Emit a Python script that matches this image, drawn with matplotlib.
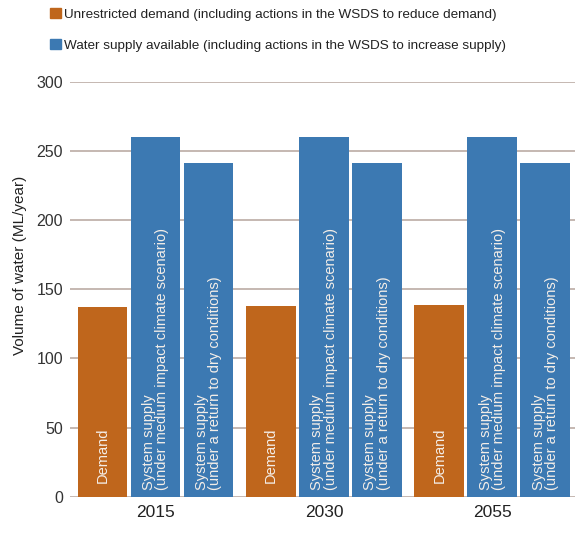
import numpy as np
import matplotlib.pyplot as plt
from matplotlib.patches import Patch

plt.rcParams['font.family'] = ['Liberation Sans Narrow', 'Liberation Sans', 'DejaVu Sans']

# values (ML/year)
years = ['2015', '2030', '2055']
demand = [137, 137.5, 138.5]
supply_medium = [260, 260, 260]
supply_dry = [241, 241, 241]

bar_labels = ['Demand',
              'System supply\n(under medium impact climate scenario)',
              'System supply\n(under a return to dry conditions)']
legend_labels = ['Unrestricted demand (including actions in the WSDS to reduce demand)',
                 'Water supply available (including actions in the WSDS to increase supply)']
yticks = [0, 50, 100, 150, 200, 250, 300]

orange = '#BF661C'
blue = '#3C79B2'
grid_col = '#B5A49C'

fig = plt.figure(figsize=(5.78, 5.33), dpi=100)
ax = fig.add_axes([70 / 578, 1 - 496.7 / 533, 505 / 578, 415 / 533])

group_gap = 3.18
width = 0.94
centers = np.arange(len(years)) * group_gap

series = [demand, supply_medium, supply_dry]
colors = [orange, blue, blue]
for k, (vals, col, lab) in enumerate(zip(series, colors, bar_labels)):
    xs = centers + (k - 1)
    ax.bar(xs, vals, width=width, color=col, zorder=2)
    for x in xs:
        ax.text(x, 10 if k == 0 else 5, lab, rotation=90, ha='center', va='bottom',
                multialignment='left', color='#F4EEE8', fontsize=10.5,
                linespacing=0.95, zorder=3)

ax.set_ylim(0, 300)
ax.set_xlim(-1.613, 7.92)
ax.set_yticks(yticks)
ax.set_xticks(centers)
ax.set_xticklabels(years, fontsize=12.5, color='#222222')
ax.tick_params(axis='y', length=0, pad=5, labelsize=11.5, labelcolor='#333333')
ax.tick_params(axis='x', length=0, pad=6)
ax.grid(axis='y', color=grid_col, linewidth=1.1, zorder=0)
for s in ax.spines.values():
    s.set_visible(False)

ax.set_ylabel('Volume of water (ML/year)', fontsize=11, color='#222222')
ax.yaxis.set_label_coords(-0.085, 0.558)

handles = [Patch(color=orange), Patch(color=blue)]
fig.legend(handles, legend_labels, loc='upper left', bbox_to_anchor=(50 / 578, 1 - 8 / 533),
           frameon=False, fontsize=9.7, handlelength=0.8, handleheight=0.8,
           handletextpad=0.25, labelspacing=1.35, borderpad=0, borderaxespad=0,
           labelcolor='#222222')

fig.savefig('out.png', dpi=100)
